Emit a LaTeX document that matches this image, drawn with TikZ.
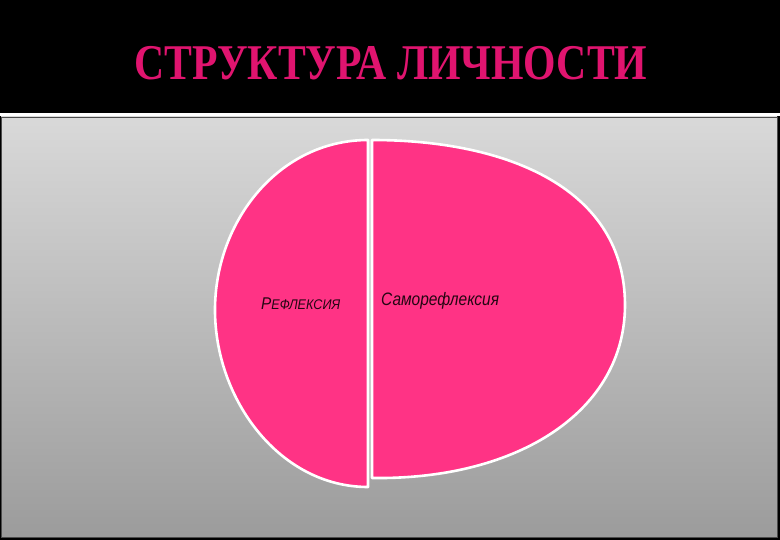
\documentclass[tikz,border=0pt]{standalone}
\usepackage{fontspec}
\setmainfont{Liberation Serif}
\newfontfamily\lsans{Liberation Sans}
\definecolor{titlepink}{HTML}{E0146F}
\definecolor{fillpink}{HTML}{FF3385}
\definecolor{labeldark}{HTML}{240612}
\begin{document}
\begin{tikzpicture}[x=1pt,y=-1pt,
  part/.style={fill=fillpink,draw=white,line width=2.6pt,line join=round},
  lbl/.style={text=labeldark,font=\lsans\itshape,inner sep=0pt,anchor=base west}]
\useasboundingbox (0,0) rectangle (780,540);
\fill[black] (0,0) rectangle (780,540);
% title
\node[text=titlepink,font=\bfseries\fontsize{50}{50}\selectfont,xscale=0.835,anchor=base,inner sep=0pt] (title) at (391,80) {СТРУКТУРА ЛИЧНОСТИ};
% separator and panel
\fill[white] (0,113) rectangle (780,116);
\shade[top color=gray!30,bottom color=gray!78] (1,117) rectangle (777,537);
\draw[gray!60!black,line width=0.8pt] (1.5,117.5) rectangle (777,537);
% shapes
\path[part] (368,140) .. controls (280,140) and (215,220) .. (215,310)
   .. controls (215,400) and (280,487) .. (368,487) -- cycle;
\path[part] (372,140) .. controls (510,140) and (625,190) .. (625,305)
   .. controls (625,410) and (520,480) .. (372,478) -- cycle;
% labels
\node[lbl,xscale=0.9] (refl) at (261,310) {\fontsize{17}{17}\selectfont Р\fontsize{14}{14}\selectfont ЕФЛЕКСИЯ};
\node[lbl,xscale=0.86] (samo) at (381,306) {\fontsize{18}{18}\selectfont Саморефлексия};
\end{tikzpicture}
\end{document}
